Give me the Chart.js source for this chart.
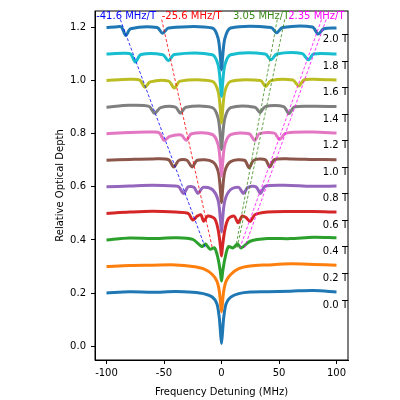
<!DOCTYPE html>
<html lang="en">
<head>
  <meta charset="UTF-8" />
  <title>Zeeman spectra</title>
  <script src="https://cdn.jsdelivr.net/npm/chart.js"></script>
  <style>body{margin:0;background:#fff}#wrap{width:400px;height:400px}</style>
</head>
<body>
<div id="wrap"><canvas id="chart"></canvas></div>
<script>
  const fields = ['0.0 T','0.2 T','0.4 T','0.6 T','0.8 T','1.0 T','1.2 T','1.4 T','1.6 T','1.8 T','2.0 T'];
  const colors = ['#1f77b4','#ff7f0e','#2ca02c','#d62728','#9467bd','#8c564b','#e377c2','#7f7f7f','#bcbd22','#17becf','#1f77b4'];
  const baselines = [0.2,0.3,0.4,0.5,0.6,0.7,0.8,0.9,1.0,1.1,1.2];
  const xTicks = [-100,-50,0,50,100];
  const yTicks = [0.0,0.2,0.4,0.6,0.8,1.0,1.2];

  const xs = [
    [-100,-80,-60,-40,-25,-15,-8,-4,-2,-1,0,1,2,4,8,15,25,40,60,80,100],
    [-100,-80,-60,-40,-25,-15,-8,-4,-2,-1,0,1,2,4,8,15,25,40,60,80,100],
    [-100,-80,-60,-40,-25,-17,-14,-10,-6,-3,-1,0,1,3,6,10,14,17,25,40,60,80,100],
    [-100,-80,-60,-40,-29,-25,-21,-18,-15.4,-12,-6,-3,-1,0,1,3,6,11,14.4,18,21,25,29,40,60,80,100],
    [-100,-80,-60,-40,-37,-33,-29,-24,-20.5,-16,-8,-3,-1,0,1,3,8,15,19,23,30,34,38,60,80,100],
    [-100,-80,-60,-46,-41.6,-37,-30,-25.6,-21,-8,-3,-1,0,1,3,8,20,24,28,38,42,46,60,80,100],
    [-100,-80,-60,-54,-49.9,-45,-35,-30.7,-26,-8,-3,-1,0,1,3,8,24,28.8,33,46,50.4,55,60,80,100],
    [-100,-80,-63,-58.2,-53,-40,-35.8,-31,-8,-3,-1,0,1,3,8,29,33.6,38,54,58.8,63,80,100],
    [-100,-80,-71,-66.6,-62,-46,-41,-36,-8,-3,-1,0,1,3,8,34,38.4,43,62,67.2,72,85,100],
    [-100,-85,-79,-74.9,-70,-51,-46.1,-41,-8,-3,-1,0,1,3,8,38,43.2,48,70,75.6,80,100],
    [-100,-90,-87,-83.2,-79,-56,-51.2,-46,-8,-3,-1,0,1,3,8,43,48,53,79,84,89,100]
  ];
  const ys = [
    [0.200,0.205,0.203,0.206,0.203,0.197,0.185,0.16,0.11,0.06,0.01,0.06,0.11,0.16,0.185,0.198,0.204,0.205,0.207,0.210,0.204],
    [0.300,0.304,0.305,0.306,0.300,0.290,0.270,0.245,0.21,0.17,0.13,0.17,0.21,0.245,0.270,0.292,0.302,0.306,0.310,0.308,0.305],
    [0.400,0.407,0.405,0.408,0.402,0.375,0.385,0.365,0.370,0.33,0.28,0.245,0.28,0.33,0.375,0.37,0.385,0.37,0.395,0.405,0.405,0.41,0.408],
    [0.500,0.505,0.508,0.505,0.500,0.475,0.49,0.495,0.47,0.49,0.48,0.44,0.38,0.34,0.38,0.44,0.48,0.49,0.465,0.49,0.485,0.47,0.495,0.505,0.507,0.507,0.505],
    [0.600,0.603,0.606,0.603,0.600,0.575,0.600,0.598,0.575,0.598,0.590,0.55,0.48,0.43,0.48,0.55,0.590,0.598,0.575,0.598,0.600,0.575,0.602,0.605,0.602,0.603],
    [0.700,0.703,0.705,0.702,0.675,0.700,0.700,0.675,0.700,0.695,0.66,0.59,0.54,0.59,0.66,0.695,0.700,0.672,0.700,0.702,0.675,0.702,0.705,0.703,0.702],
    [0.800,0.805,0.806,0.803,0.775,0.790,0.795,0.775,0.800,0.797,0.76,0.69,0.64,0.69,0.76,0.797,0.800,0.775,0.800,0.802,0.778,0.800,0.805,0.806,0.803],
    [0.900,0.907,0.903,0.877,0.898,0.900,0.877,0.900,0.898,0.86,0.79,0.74,0.79,0.86,0.898,0.900,0.880,0.902,0.902,0.875,0.900,0.903,0.902],
    [1.000,1.005,1.002,0.975,0.995,0.998,0.972,0.998,0.997,0.96,0.89,0.84,0.89,0.96,0.997,1.000,0.978,1.000,1.002,0.980,1.003,1.004,1.002],
    [1.100,1.103,1.100,1.070,1.098,1.097,1.075,1.098,1.097,1.06,0.99,0.94,0.99,1.06,1.097,1.100,1.078,1.100,1.102,1.078,1.100,1.100],
    [1.200,1.203,1.202,1.170,1.195,1.200,1.178,1.198,1.198,1.16,1.09,1.04,1.09,1.16,1.198,1.200,1.180,1.200,1.202,1.175,1.195,1.198]
  ];

  // dashed guide lines: x at top and x at bottom
  const guideTopY = 1.23, guideBottomY = 0.37;
  const guideColors = ['blue','red','#3a8a1a','#3a8a1a','magenta','magenta'];
  const guideTopX = [-88,-52,48.5,55,87,91];
  const guideBottomX = [-14,-8,12.3,13.6,16,20];

  const slopeLabels = ['-41.6 MHz/T','-25.6 MHz/T','3.05 MHz/T','2.35 MHz/T'];
  const slopeColors = ['blue','red','#3a8a1a','magenta'];
  const slopeLabelX = [-109,-52,10,58];

  const datasets = [];
  fields.forEach((f, i) => {
    datasets.push({
      label: f,
      data: xs[i].map((x, j) => ({ x: x, y: ys[i][j] })),
      borderColor: colors[i],
      borderWidth: 3,
      pointRadius: 0,
      tension: 0.3,
      order: 20 - i
    });
  });
  guideTopX.forEach((x, i) => {
    datasets.push({
      label: 'guide' + i,
      data: [{ x: x, y: guideTopY }, { x: guideBottomX[i], y: guideBottomY }],
      borderColor: guideColors[i],
      borderWidth: 0.8,
      borderDash: [3, 2],
      pointRadius: 0,
      order: 0
    });
  });

  const font = '10px "DejaVu Sans"';
  const overlay = {
    id: 'overlay',
    afterDraw(chart) {
      const c = chart.ctx, sx = chart.scales.x, sy = chart.scales.y, a = chart.chartArea;
      c.save();
      c.strokeStyle = '#000';
      c.lineWidth = 1;
      c.strokeRect(a.left, a.top, a.right - a.left, a.bottom - a.top);
      c.font = font;
      c.textBaseline = 'middle';
      c.fillStyle = '#000';
      c.textAlign = 'center';
      c.fillText('Frequency Detuning (MHz)', (a.left + a.right) / 2, 392);
      c.save();
      c.translate(60, (a.top + a.bottom) / 2);
      c.rotate(-Math.PI / 2);
      c.fillText('Relative Optical Depth', 0, 0);
      c.restore();
      c.textAlign = 'right';
      fields.forEach((f, i) => {
        c.fillText(f, sx.getPixelForValue(110), sy.getPixelForValue(baselines[i] - 0.045));
      });
      c.textAlign = 'left';
      slopeLabels.forEach((t, i) => {
        c.fillStyle = slopeColors[i];
        c.fillText(t, sx.getPixelForValue(slopeLabelX[i]), a.top + 5);
      });
      c.restore();
    }
  };

  new Chart(document.getElementById('chart'), {
    type: 'line',
    data: { datasets: datasets },
    plugins: [overlay],
    options: {
      responsive: true,
      maintainAspectRatio: false,
      animation: false,
      layout: { padding: { top: 3, right: 52, left: 0, bottom: 0 } },
      plugins: { legend: { display: false }, tooltip: { enabled: false } },
      scales: {
        x: {
          type: 'linear', min: -110, max: 110,
          afterFit: s => { s.height = 40; },
          afterBuildTicks: s => { s.ticks = xTicks.map(v => ({ value: v })); },
          ticks: { color: '#000', font: { family: 'DejaVu Sans', size: 10 }, maxRotation: 0 },
          grid: { drawOnChartArea: false, tickLength: 4, color: '#000' },
          border: { color: '#000' }
        },
        y: {
          type: 'linear', min: -0.052, max: 1.262,
          afterFit: s => { s.width = 95; },
          afterBuildTicks: s => { s.ticks = yTicks.map(v => ({ value: v })); },
          ticks: { color: '#000', font: { family: 'DejaVu Sans', size: 10 }, padding: 5, callback: v => v.toFixed(1) },
          grid: { drawOnChartArea: false, tickLength: 4, color: '#000' },
          border: { color: '#000' }
        }
      }
    }
  });
</script>
</body>
</html>
